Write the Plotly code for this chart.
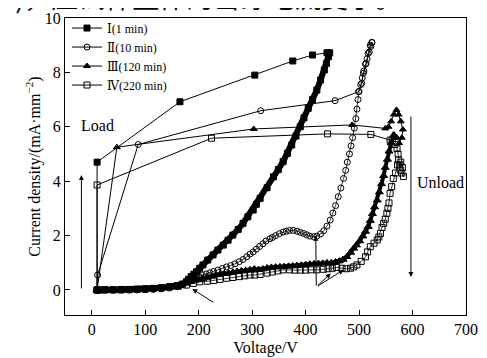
import plotly.graph_objects as go

# ---------------- data ----------------
# Curve I (1 min) : load branch (sparse markers) and unload branch (dense markers)
I_load_v = [10, 10, 165, 305, 376, 413, 440]
I_load_j = [0, 4.7, 6.92, 7.9, 8.42, 8.64, 8.72]
I_unl_v = [445, 443, 439, 435, 428, 421, 413, 405, 397, 390, 382, 374, 366, 358, 349, 340, 328, 315,
           308, 302, 292, 283, 274, 264, 255, 246, 236, 227, 217, 208, 202, 196, 191, 186, 181, 177,
           170, 160, 146, 130, 115, 100, 85, 70, 55, 40, 25, 15, 10]
I_unl_j = [8.72, 8.58, 8.33, 8.09, 7.72, 7.35, 7.0, 6.68, 6.33, 6.0, 5.66, 5.33, 5.02, 4.72, 4.43, 4.16,
           3.76, 3.37, 3.15, 2.94, 2.69, 2.45, 2.23, 2.02, 1.83, 1.65, 1.47, 1.29, 1.1, 0.92, 0.8, 0.67,
           0.58, 0.49, 0.39, 0.3, 0.22, 0.16, 0.12, 0.08, 0.06, 0.04, 0.03, 0.02, 0.02, 0.01, 0.01, 0, 0]

# Curve II (10 min)
II_load_v = [10, 11, 87, 316, 455, 499, 505, 508, 513, 517, 521, 524]
II_load_j = [0, 0.55, 5.35, 6.59, 6.96, 7.29, 7.6, 7.97, 8.33, 8.7, 9.0, 9.1]
II_unl_v = [524, 522, 519, 515, 512, 509, 506, 503, 500, 498, 496, 494, 491, 488, 485, 482, 478, 475,
            471, 466, 461, 456, 451, 446, 440, 434, 428, 421, 415, 408, 402, 396, 390, 384, 377, 370,
            364, 358, 351, 344, 338, 333, 326, 320, 314, 308, 302, 296, 290, 283, 276, 268, 260, 252,
            244, 236, 228, 221, 214, 207, 200, 194, 189, 183, 177, 170, 160, 145, 130, 115, 100, 85,
            70, 55, 40, 25, 12]
II_unl_j = [9.1, 8.95, 8.75, 8.5, 8.3, 8.05, 7.8, 7.55, 7.3, 7.0, 6.65, 6.3, 5.95, 5.6, 5.3, 5.0, 4.7,
            4.4, 4.1, 3.75, 3.43, 3.1, 2.83, 2.57, 2.35, 2.18, 2.06, 1.98, 1.96, 1.98, 2.03, 2.08, 2.12,
            2.16, 2.19, 2.19, 2.16, 2.13, 2.07, 2.0, 1.93, 1.88, 1.8, 1.7, 1.6, 1.5, 1.4, 1.32, 1.22,
            1.12, 1.04, 0.96, 0.9, 0.85, 0.79, 0.73, 0.68, 0.63, 0.59, 0.55, 0.51, 0.47, 0.43, 0.37,
            0.3, 0.2, 0.12, 0.07, 0.04, 0.02, 0.01, 0, 0, 0, 0, 0, 0]

# Curve III (120 min)
III_load_v = [10, 47, 303, 487, 549, 555, 560, 565, 570, 574, 578, 582, 580, 575]
III_load_j = [0, 5.25, 5.92, 6.07, 5.94, 6.0, 6.2, 6.45, 6.62, 6.45, 6.2, 5.9, 5.6, 5.4]
III_unl_v = [570, 565, 560, 556, 553, 549, 546, 542, 538, 534, 529, 525, 521, 517, 512, 507, 501, 495,
             490, 484, 477, 470, 463, 456, 448, 440, 432, 424, 416, 408, 400, 392, 384, 376, 368, 360,
             352, 344, 336, 328, 320, 312, 304, 296, 288, 280, 272, 264, 256, 248, 240, 232, 224, 216,
             208, 200, 192, 184, 176, 168, 160, 150, 140, 125, 110, 95, 80, 65, 50, 35, 20, 10]
III_unl_j = [5.6, 5.7, 5.4, 5.1, 4.8, 4.5, 4.2, 3.9, 3.6, 3.3, 3.05, 2.8, 2.55, 2.33, 2.15, 1.98, 1.8,
             1.65, 1.53, 1.38, 1.22, 1.12, 1.06, 1.03, 1.0, 1.0, 0.98, 0.97, 0.96, 0.95, 0.93, 0.91,
             0.9, 0.88, 0.87, 0.86, 0.85, 0.84, 0.83, 0.81, 0.77, 0.75, 0.77, 0.74, 0.72, 0.7, 0.68,
             0.65, 0.62, 0.6, 0.58, 0.55, 0.5, 0.46, 0.42, 0.38, 0.35, 0.3, 0.25, 0.18, 0.13, 0.1,
             0.07, 0.05, 0.03, 0.02, 0.01, 0, 0, 0, 0, 0]

# Curve IV (220 min)
IV_load_v = [10, 10, 224, 441, 522, 558]
IV_load_j = [0, 3.86, 5.58, 5.74, 5.72, 5.51]
IV_unl_v = [562, 567, 571, 573, 574, 576, 577, 580, 583, 581, 578, 572, 568, 564, 561, 558, 556, 554,
            552, 549, 546, 543, 540, 537, 534, 528, 521, 516, 512, 504, 496, 490, 484, 476, 468, 458,
            450, 442, 433, 421, 410, 400, 390, 380, 370, 358, 348, 338, 328, 315, 305, 296, 286, 276,
            264, 252, 240, 228, 216, 202, 190, 177, 162, 146, 130, 115, 100, 85, 70, 55, 40, 25, 12]
IV_unl_j = [5.5, 5.35, 5.2, 5.0, 4.78, 4.6, 4.41, 4.3, 4.17, 4.5, 4.7, 4.6, 4.3, 4.1, 3.8, 3.55, 3.2,
            3.0, 2.82, 2.6, 2.45, 2.3, 2.08, 1.95, 1.84, 1.72, 1.59, 1.4, 1.22, 1.05, 0.92, 0.85, 0.8,
            0.78, 0.8, 0.83, 0.8, 0.78, 0.76, 0.74, 0.74, 0.73, 0.73, 0.73, 0.74, 0.74, 0.7, 0.66,
            0.62, 0.57, 0.55, 0.55, 0.52, 0.49, 0.46, 0.43, 0.39, 0.35, 0.32, 0.3, 0.24, 0.18, 0.14,
            0.12, 0.08, 0.05, 0.03, 0.02, 0.01, 0, 0, 0, 0]

series_names = ["Ⅰ(1 min)", "Ⅱ(10 min)", "Ⅲ(120 min)", "Ⅳ(220 min)"]
x_ticks = [0, 100, 200, 300, 400, 500, 600, 700]
y_ticks = [0, 2, 4, 6, 8, 10]

SERIF = "Liberation Serif, DejaVu Serif, Times New Roman, serif"

fig = go.Figure()

styles = [
    dict(symbol="square", color="black", line=dict(color="black", width=1)),
    dict(symbol="circle-open", color="black", line=dict(color="black", width=1)),
    dict(symbol="triangle-up", color="black", line=dict(color="black", width=1)),
    dict(symbol="square-open", color="black", line=dict(color="black", width=1)),
]
loads = [(I_load_v, I_load_j), (II_load_v, II_load_j), (III_load_v, III_load_j), (IV_load_v, IV_load_j)]
unloads = [(I_unl_v, I_unl_j), (II_unl_v, II_unl_j), (III_unl_v, III_unl_j), (IV_unl_v, IV_unl_j)]
unl_line_w = [6, 0.8, 4, 0.8]
unl_size = [6, 6, 7, 6]

for k in range(4):
    uv, uj = unloads[k]
    fig.add_trace(go.Scatter(
        x=uv, y=uj, mode="lines+markers", showlegend=False, hoverinfo="skip",
        line=dict(color="black", width=unl_line_w[k]),
        marker=dict(size=unl_size[k], **styles[k]),
    ))
for k in range(4):
    lv, lj = loads[k]
    fig.add_trace(go.Scatter(
        x=lv, y=lj, mode="lines+markers", name=series_names[k],
        line=dict(color="black", width=1),
        marker=dict(size=6, **styles[k]),
    ))

axis_common = dict(
    showgrid=False, zeroline=False, showline=True, linecolor="black", linewidth=1,
    mirror=True, ticks="inside", ticklen=5, tickwidth=1, tickcolor="black", automargin=False,
    tickfont=dict(family=SERIF, size=16, color="black"),
)
fig.update_xaxes(range=[-50, 700], tickvals=x_ticks, ticktext=[str(t) for t in x_ticks],
                 title=dict(text="Voltage/V", font=dict(family=SERIF, size=16, color="black"), standoff=4),
                 **axis_common)
fig.update_yaxes(range=[-0.92, 10], tickvals=y_ticks, ticktext=[str(t) for t in y_ticks],
                 title=dict(text="Current density/(mA·mm<sup>−2</sup>)",
                            font=dict(family=SERIF, size=16, color="black"), standoff=0),
                 **axis_common)

annotations = [
    dict(x=10.7, y=6.03, xref="x", yref="y", text="Load", showarrow=False,
         font=dict(family=SERIF, size=16, color="black")),
    dict(x=605, y=3.97, xref="x", yref="y", text="Unload", showarrow=False, xanchor="left",
         font=dict(family=SERIF, size=16, color="black")),
    # Load arrow (up)
    dict(x=-19.3, y=4.23, ax=-19.3, ay=0, xref="x", yref="y", axref="x", ayref="y", text="",
         showarrow=True, arrowhead=2, arrowsize=1, arrowwidth=1, arrowcolor="black"),
    # Unload arrow (down)
    dict(x=597, y=0.48, ax=597, ay=6.43, xref="x", yref="y", axref="x", ayref="y", text="",
         showarrow=True, arrowhead=2, arrowsize=1, arrowwidth=1, arrowcolor="black"),
    # pointer arrows
    dict(x=188, y=0.04, ax=230, ay=-0.49, xref="x", yref="y", axref="x", ayref="y", text="",
         showarrow=True, arrowhead=2, arrowsize=1, arrowwidth=1, arrowcolor="black"),
    dict(x=419, y=1.99, ax=420, ay=0.11, xref="x", yref="y", axref="x", ayref="y", text="",
         showarrow=True, arrowhead=2, arrowsize=1, arrowwidth=1, arrowcolor="black"),
    dict(x=447, y=0.61, ax=420, ay=0.11, xref="x", yref="y", axref="x", ayref="y", text="",
         showarrow=True, arrowhead=2, arrowsize=1, arrowwidth=1, arrowcolor="black"),
    dict(x=471, y=0.74, ax=420, ay=0.11, xref="x", yref="y", axref="x", ayref="y", text="",
         showarrow=True, arrowhead=2, arrowsize=1, arrowwidth=1, arrowcolor="black"),
    # clipped caption line at the very top of the page
    dict(x=-0.167, y=1.0, xref="paper", yref="paper", xanchor="left", yanchor="bottom",
         text="a)，应试件整体的击穿电流变小。", showarrow=False,
         font=dict(family="Noto Sans CJK SC", size=27, color="black")),
]

# the page body has an 8px margin; margins below compensate so the plot box
# lands where it is in the reference image
fig.update_layout(
    width=487, height=358,
    margin=dict(l=57, r=29, t=10, b=51, autoexpand=False),
    paper_bgcolor="white", plot_bgcolor="white",
    annotations=annotations,
    legend=dict(x=0.005, y=1.015, xanchor="left", yanchor="top", bgcolor="rgba(0,0,0,0)",
                font=dict(family=SERIF, size=12, color="black"), tracegroupgap=0,
                itemwidth=30),
)

fig.write_html("out.html")
